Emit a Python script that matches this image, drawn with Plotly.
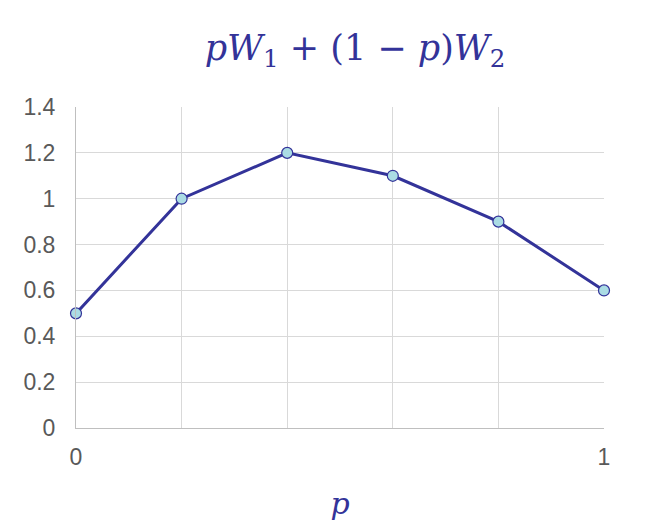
import plotly.graph_objects as go

p_values = [0, 0.2, 0.4, 0.6, 0.8, 1.0]
mix_values = [0.5, 1.0, 1.2, 1.1, 0.9, 0.6]
x_tick_vals = [0, 0.2, 0.4, 0.6, 0.8, 1.0]
x_tick_text = ["0", "", "", "", "", "1"]
y_tick_vals = [0, 0.2, 0.4, 0.6, 0.8, 1.0, 1.2, 1.4]
y_tick_text = ["0", "0.2", "0.4", "0.6", "0.8", "1", "1.2", "1.4"]

navy = "#333399"

fig = go.Figure()
fig.add_trace(go.Scatter(
    x=p_values, y=mix_values, mode="lines+markers",
    line=dict(color=navy, width=3),
    marker=dict(size=11, color="#ABDCE4", line=dict(color=navy, width=1.2)),
    cliponaxis=False,
))

fig.update_layout(
    width=656, height=531,
    margin=dict(l=68, r=60, t=99, b=111),
    paper_bgcolor="white", plot_bgcolor="white",
    showlegend=False,
    title=dict(
        text="<i>p</i><i>W</i><sub>1</sub> + (1 − <i>p</i>)<i>W</i><sub>2</sub>",
        x=0.529, xanchor="center", y=0.925, yanchor="middle",
        font=dict(family="DejaVu Serif", size=35, color=navy),
    ),
    font=dict(family="Liberation Sans, Arial", size=23, color="#595959"),
)
fig.update_xaxes(
    range=[0, 1], tickvals=x_tick_vals, ticktext=x_tick_text,
    showgrid=True, gridcolor="#d9d9d9", gridwidth=1,
    showline=True, linecolor="#bfbfbf", linewidth=1,
    zeroline=False, ticks="", ticklabelstandoff=8,
    title=dict(text="<i>p</i>", standoff=24,
               font=dict(family="DejaVu Serif", size=30, color=navy)),
)
fig.update_yaxes(
    range=[0, 1.4], tickvals=y_tick_vals, ticktext=y_tick_text,
    showgrid=True, gridcolor="#d9d9d9", gridwidth=1,
    showline=True, linecolor="#bfbfbf", linewidth=1,
    zeroline=False, ticks="", ticklabelstandoff=15,
)

fig.write_html("out.html")
